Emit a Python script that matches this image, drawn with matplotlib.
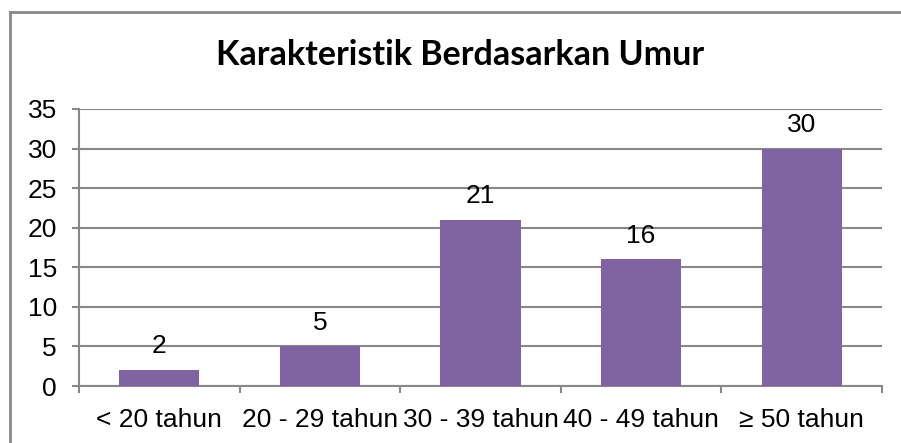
import matplotlib.pyplot as plt
from matplotlib.lines import Line2D

# data
categories = ['< 20 tahun', '20 - 29 tahun', '30 - 39 tahun', '40 - 49 tahun', '≥ 50 tahun']
values = [2, 5, 21, 16, 30]

plt.rcParams['font.family'] = ['Liberation Sans', 'DejaVu Sans']

fig = plt.figure(figsize=(9.01, 4.43), dpi=100)
ax = fig.add_axes([79 / 901, 1 - 386 / 443, (882 - 79) / 901, (386 - 109) / 443])

x = range(len(categories))
ax.bar(x, values, width=0.5, color='#8064A2', zorder=3)

for xi, v in zip(x, values):
    ax.annotate(str(v), (xi, v), xytext=(0, 8.5), textcoords='offset points',
                ha='center', va='bottom', fontsize=19)

ax.set_xlim(-0.5, len(categories) - 0.5)
ax.set_ylim(0, 35)
ax.set_yticks(range(0, 36, 5))
ax.set_xticks(x)
ax.set_xticklabels(categories)
ax.set_xticks([i - 0.5 for i in range(len(categories) + 1)], minor=True)

ax.tick_params(axis='y', labelsize=19, length=5, width=1.5, color='#888888', pad=11)
ax.tick_params(axis='x', which='major', labelsize=19, length=0, pad=16)
ax.tick_params(axis='x', which='minor', length=5, width=1.5, color='#888888')

ax.grid(axis='y', color='#888888', linewidth=1.5, zorder=0)
for s in ['top', 'right']:
    ax.spines[s].set_visible(False)
for s in ['left', 'bottom']:
    ax.spines[s].set_color('#888888')
    ax.spines[s].set_linewidth(1.5)

fig.text(460 / 901, 1 - 55 / 443, 'Karakteristik Berdasarkan Umur', ha='center', va='center',
         fontsize=24.5, fontweight='bold', family=['Lato', 'DejaVu Sans'])

# chart border (only top and left edges are inside the frame)
bx, by = 9.5 / 901, 1 - 11.5 / 443
fig.add_artist(Line2D([bx, bx], [0, by], transform=fig.transFigure, color='#888888', linewidth=2))
fig.add_artist(Line2D([bx, 1], [by, by], transform=fig.transFigure, color='#888888', linewidth=2))

fig.savefig('out.png', dpi=100)
